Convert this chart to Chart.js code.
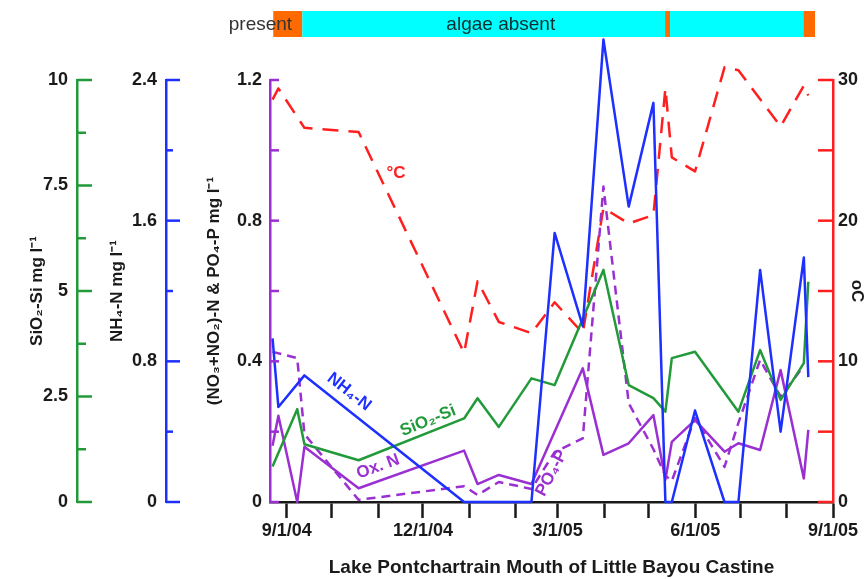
<!DOCTYPE html>
<html><head><meta charset="utf-8">
<script src="https://cdn.jsdelivr.net/npm/chart.js@4.4.1/dist/chart.umd.min.js"></script>
<style>html,body{margin:0;padding:0;background:#fff;}canvas{display:block;}</style>
</head><body>
<canvas id="c" width="868" height="579"></canvas>
<script>
// x values are days since 9/1/04
const tempDays = [-9.5,-5.6,11.8,48,118.5,127.5,141.7,163.5,179,197.8,211.6,228.5,245,253,257.3,272.8,292.5,301.8,330,345.5,348.5];
const tempC    = [28.6,29.4,26.6,26.3,10.6,15.7,12.8,12.0,14.2,12.0,20.9,19.8,20.4,29.4,24.5,23.5,30.9,30.7,26.7,29.6,28.9];

const nh4Days = [-9.5,-5.6,11.8,118.5,163.5,179,197.8,211.6,228.5,245,253,257.3,272.8,292.5,301.8,316.3,330,345.5,348.5];
const nh4N    = [0.93,0.54,0.72,0,0,1.53,1.00,2.63,1.68,2.27,0,0,0.52,0,0,1.32,0.40,1.39,0.71];

const siDays = [-9.5,7,11.8,48,118.5,127.5,141.7,163.5,179,211.6,228.5,245,253,257.3,272.8,301.8,316.3,330,345.5,348.5];
const sio2Si = [0.84,2.20,1.37,0.99,1.98,2.46,1.78,2.93,2.77,5.50,2.77,2.46,2.14,3.41,3.56,2.14,3.60,2.42,3.29,5.22];

const oxDays = [-9.5,-5.6,7,11.8,48,118.5,127.5,141.7,163.5,197.8,211.6,228.5,245,253,257.3,272.8,292.5,301.8,316.3,330,345.5,348.5];
const oxN    = [0.16,0.245,0,0.157,0.039,0.146,0.051,0.077,0.051,0.38,0.134,0.167,0.247,0.063,0.171,0.233,0.143,0.167,0.148,0.375,0.067,0.205];

const po4Days = [-9.5,7,11.8,48,118.5,127.5,141.7,163.5,179,197.8,211.6,228.5,245,253,257.3,272.8,292.5,301.8,316.3,330,345.5];
const po4P    = [0.427,0.409,0.193,0.006,0.045,0.02,0.057,0.037,0.142,0.181,0.897,0.281,0.15,0.075,0.06,0.239,0.10,0.225,0.404,0.30,0.387];

// algae presence bar
const algaeFrom  = [-9.0, 10.4, 252.8, 256.1, 345.2];
const algaeTo    = [10.4, 252.8, 256.1, 345.2, 353.0];
const algaeState = ['present','absent','present','absent','present'];

// ticks
const xTickDays   = [0,30,61,91,122,153,181,212,242,273,303,334,365];
const xLabelDays  = [0,91,181,273,365];
const xLabels     = ['9/1/04','12/1/04','3/1/05','6/1/05','9/1/05'];
const siTicks     = [0,2.5,5,7.5,10];
const nh4Ticks    = [0,0.8,1.6,2.4];
const mainTicks   = [0,0.4,0.8,1.2];
const tempTicks   = [0,10,20,30];

const RED='#ff1f1f', GREEN='#229a3a', BLUE='#1e30ff', PURPLE='#9a30d2', ORANGE='#ff6a00', CYAN='#00ffff', INK='#1a1a1a';
const FONT = '"Liberation Sans", Arial, Helvetica, sans-serif';
Chart.defaults.font.family = FONT;

const pts = (xs, ys) => xs.map((x, i) => ({x, y: ys[i]}));

const tickSpec = [
  {id:'ySi',   step:1.25, major:2.5, majorLen:15, minorLen:9,  color:GREEN,  side:'left'},
  {id:'yNH',   step:0.4,  major:0.8, majorLen:14, minorLen:7,  color:BLUE,   side:'left'},
  {id:'yMain', step:0.2,  major:0.2, majorLen:9,  minorLen:9,  color:PURPLE, side:'left'},
  {id:'yT',    step:5,    major:5,   majorLen:15, minorLen:15, color:RED,    side:'right'}
];

const seriesLabels = [
  {text:'NH\u2084-N',   x:41.6,  y:0.626, axis:'yNH',   color:BLUE,   rot:38},
  {text:'SiO\u2082-Si', x:94.4,  y:1.92,  axis:'ySi',   color:GREEN,  rot:-22},
  {text:'Ox. N',        x:61,    y:0.10,  axis:'yMain', color:PURPLE, rot:-20},
  {text:'PO\u2084-P',   x:177,   y:0.082, axis:'yMain', color:PURPLE, rot:-62},
  {text:'\u00B0C',      x:73,    y:23.4,  axis:'yT',    color:RED,    rot:0}
];

const decor = {
  id:'decor',
  afterDraw(chart){
    const ctx = chart.ctx, xs = chart.scales.x;
    ctx.save();
    // axis ticks
    ctx.lineWidth = 2.5; ctx.lineCap = 'butt';
    tickSpec.forEach(sp => {
      const s = chart.scales[sp.id];
      const x0 = sp.side === 'left' ? s.right : s.left;
      const dir = sp.side === 'left' ? 1 : -1;
      const n = Math.round((s.max - s.min) / sp.step);
      ctx.strokeStyle = sp.color;
      for (let i = 0; i <= n; i++) {
        const v = s.min + i * sp.step;
        const r = v / sp.major;
        const len = Math.abs(r - Math.round(r)) < 1e-6 ? sp.majorLen : sp.minorLen;
        const y = s.getPixelForValue(v);
        ctx.beginPath(); ctx.moveTo(x0, y); ctx.lineTo(x0 + dir * len, y); ctx.stroke();
      }
    });
    // series labels
    seriesLabels.forEach(l => {
      const px = xs.getPixelForValue(l.x), py = chart.scales[l.axis].getPixelForValue(l.y);
      ctx.save(); ctx.translate(px, py); ctx.rotate(l.rot * Math.PI / 180);
      ctx.fillStyle = l.color; ctx.font = 'bold 17px ' + FONT;
      ctx.textAlign = 'center'; ctx.textBaseline = 'middle';
      ctx.fillText(l.text, 0, 0); ctx.restore();
    });
    // algae bar
    for (let i = 0; i < algaeFrom.length; i++) {
      const a = xs.getPixelForValue(algaeFrom[i]), b = xs.getPixelForValue(algaeTo[i]);
      ctx.fillStyle = algaeState[i] === 'present' ? ORANGE : CYAN;
      ctx.fillRect(a, 11, b - a, 26);
    }
    ctx.font = '19px ' + FONT; ctx.textBaseline = 'middle';
    ctx.fillStyle = '#333'; ctx.textAlign = 'right';
    ctx.fillText('present', xs.getPixelForValue(3.6), 25);
    ctx.fillStyle = '#0d2e2e'; ctx.textAlign = 'center';
    ctx.fillText('algae absent', xs.getPixelForValue(143), 25);
    ctx.restore();
  }
};

const tickFont = {size:18, weight:'bold', family:FONT};
const titleFont = {size:17, weight:'bold', family:FONT};
const yAxis = (pos, weight, min, max, ticksArr, width, color, title, titlePad, labPad) => ({
  type:'linear', position:pos, weight, min, max,
  afterBuildTicks: s => { s.ticks = ticksArr.map(v => ({value:v})); },
  afterFit: s => { s.width = width; },
  grid:{display:true, drawOnChartArea:false, drawTicks:false},
  border:{display:true, color, width:2.5},
  ticks:{autoSkip:false, padding:labPad, color:INK, font:tickFont, callback: v => String(v)},
  title:{display:true, text:title, color:INK, font:titleFont, padding:{top:titlePad, bottom:0}}
});

new Chart(document.getElementById('c'), {
  type:'line',
  data:{datasets:[
    {label:'NH4-N', data:pts(nh4Days, nh4N), yAxisID:'yNH', borderColor:BLUE, borderWidth:2.5},
    {label:'SiO2-Si', data:pts(siDays, sio2Si), yAxisID:'ySi', borderColor:GREEN, borderWidth:2.5},
    {label:'Ox. N', data:pts(oxDays, oxN), yAxisID:'yMain', borderColor:PURPLE, borderWidth:2.5},
    {label:'PO4-P', data:pts(po4Days, po4P), yAxisID:'yMain', borderColor:PURPLE, borderWidth:2.5, borderDash:[9,6]},
    {label:'Temp', data:pts(tempDays, tempC), yAxisID:'yT', borderColor:RED, borderWidth:2.5, borderDash:[16,10]}
  ].map(d => Object.assign(d, {pointRadius:0, tension:0, fill:false, clip:false, borderJoinStyle:'round'}))},
  options:{
    responsive:false, animation:false, devicePixelRatio:1,
    layout:{padding:{top:80, left:0, right:0, bottom:0}},
    plugins:{legend:{display:false}, tooltip:{enabled:false}},
    scales:{
      x:{
        type:'linear', position:'bottom', min:-11.2, max:365,
        afterBuildTicks: s => { s.ticks = xTickDays.map(v => ({value:v})); },
        afterFit: s => { s.height = 77; },
        grid:{display:true, drawOnChartArea:false, drawTicks:true, tickLength:16, tickWidth:2.5, tickColor:INK, color:INK},
        border:{display:true, color:INK, width:2.5},
        ticks:{autoSkip:false, maxRotation:0, minRotation:0, padding:2, color:INK, font:{size:18, weight:'bold', family:FONT},
          callback: v => { const i = xLabelDays.indexOf(v); return i >= 0 ? xLabels[i] : ''; }},
        title:{display:true, text:'Lake Pontchartrain Mouth of Little Bayou Castine', color:INK,
          font:{size:19, weight:'bold', family:FONT}, padding:{top:0, bottom:0}}
      },
      ySi:   yAxis('left', 3, 0, 10,  siTicks,   77,  GREEN,  'SiO\u2082-Si mg l\u207B\u00B9', 27, 9),
      yNH:   yAxis('left', 2, 0, 2.4, nh4Ticks,  89,  BLUE,   'NH\u2084-N mg l\u207B\u00B9', 30, 9),
      yMain: yAxis('left', 1, 0, 1.2, mainTicks, 104, PURPLE, '(NO\u2083+NO\u2082)-N & PO\u2084-P mg l\u207B\u00B9', 38, 8),
      yT:    yAxis('right', 1, 0, 30, tempTicks, 35,  RED,    'oC', 1, 5)
    }
  },
  plugins:[decor]
});
</script>
</body></html>
